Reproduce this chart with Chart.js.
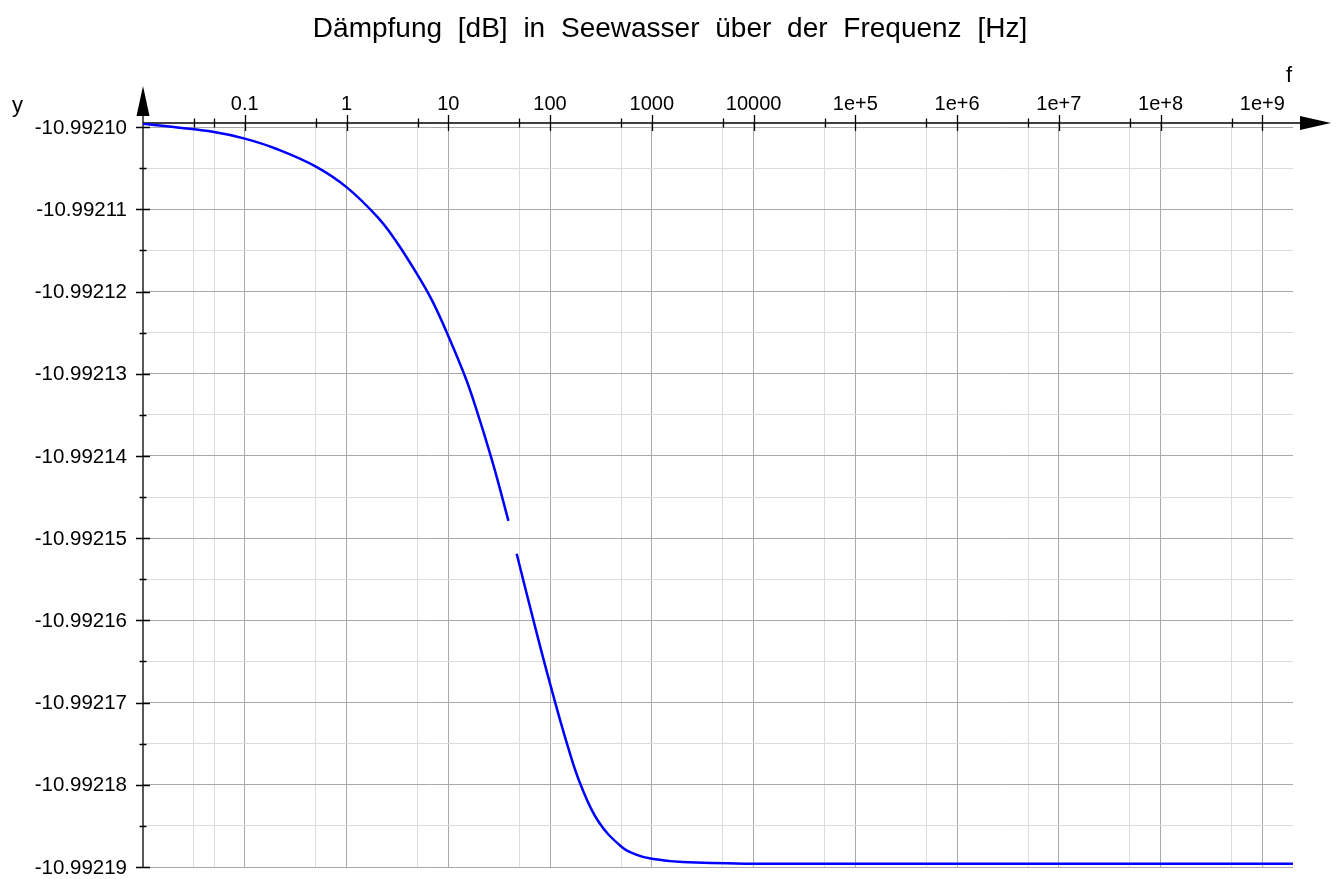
<!DOCTYPE html>
<html>
<head>
<meta charset="utf-8">
<script src="https://cdn.jsdelivr.net/npm/chart.js@4"></script>
<style>
  html, body { margin: 0; padding: 0; background: #fff; }
  #wrap { width: 1339px; height: 879px; position: relative; }
</style>
</head>
<body>
<div id="wrap"><canvas id="daempfungChart"></canvas></div>
<script>
  // frequency [Hz] and attenuation [dB]
  const freqs = [0.01, 0.02, 0.05, 0.1, 0.2, 0.5, 1, 2, 3, 5, 7, 10, 15, 20, 25, 30, 39,
                 43, 47, 70, 100, 150, 200, 300, 500, 700, 1000, 2000, 10000,
                 1e5, 1e6, 1e7, 1e8, 1e9, 2e9];
  const daempfung = [-10.9920996, -10.9921000, -10.9921006, -10.9921014, -10.9921026,
                     -10.9921048, -10.9921073, -10.9921109, -10.9921137, -10.9921180,
                     -10.9921212, -10.9921254, -10.9921307, -10.9921353, -10.9921392,
                     -10.9921426, -10.9921479,
                     null, // Lücke im Graph
                     -10.9921519, -10.9921604, -10.9921677, -10.9921754, -10.9921800,
                     -10.9921845, -10.9921875, -10.9921885, -10.9921890, -10.9921894,
                     -10.9921896, -10.9921896, -10.9921896, -10.9921896, -10.9921896,
                     -10.9921896, -10.9921896];

  const xMajor = [0.1, 1, 10, 100, 1000, 10000, 1e5, 1e6, 1e7, 1e8, 1e9];
  const xLabels = ['0.1', '1', '10', '100', '1000', '10000', '1e+5', '1e+6', '1e+7', '1e+8', '1e+9'];
  const xMinor = [0.0316, 0.05, 0.5, 5, 50, 500, 5000, 5e4, 5e5, 5e6, 5e7, 5e8];

  const yMajor = [-10.99210, -10.99211, -10.99212, -10.99213, -10.99214,
                  -10.99215, -10.99216, -10.99217, -10.99218, -10.99219];
  const yMinor = [-10.992105, -10.992115, -10.992125, -10.992135, -10.992145,
                  -10.992155, -10.992165, -10.992175, -10.992185];

  const FONT = '"Liberation Sans", Arial, Helvetica, sans-serif';

  function tickList(major, minor) {
    return major.map(v => ({ value: v, major: true }))
      .concat(minor.map(v => ({ value: v, major: false })))
      .sort((a, b) => a.value - b.value);
  }

  const gridColor = ctx => (ctx.tick && ctx.tick.major) ? '#a9a9a9' : '#dcdcdc';

  function arrow(ctx, pts) {
    ctx.beginPath();
    ctx.moveTo(pts[0][0], pts[0][1]);
    ctx.lineTo(pts[1][0], pts[1][1]);
    ctx.lineTo(pts[2][0], pts[2][1]);
    ctx.closePath();
    ctx.fill();
  }

  const mapleAxes = {
    id: 'mapleAxes',
    beforeDatasetsDraw(chart) {
      const ctx = chart.ctx;
      const a = chart.chartArea;
      const xs = chart.scales.x, ys = chart.scales.y;
      ctx.save();
      ctx.strokeStyle = '#000';
      ctx.fillStyle = '#000';
      ctx.lineWidth = 1.3;
      // Achsen
      ctx.beginPath();
      ctx.moveTo(a.left, 112);
      ctx.lineTo(a.left, a.bottom);
      ctx.moveTo(a.left, a.top);
      ctx.lineTo(1302, a.top);
      ctx.stroke();
      // Pfeile
      arrow(ctx, [[a.left, 86], [a.left - 6.5, 116], [a.left + 6.5, 116]]);
      arrow(ctx, [[1331, a.top], [1300, a.top - 7], [1300, a.top + 7]]);
      // Teilstriche
      ctx.beginPath();
      xs.ticks.forEach(t => {
        const px = Math.round(xs.getPixelForValue(t.value)) + 0.5;
        const l = t.major ? 8 : 4.5;
        ctx.moveTo(px, a.top - l);
        ctx.lineTo(px, a.top + l);
      });
      ys.ticks.forEach(t => {
        const py = Math.round(ys.getPixelForValue(t.value)) + 0.5;
        const l = t.major ? 7 : 3.5;
        ctx.moveTo(a.left - l, py);
        ctx.lineTo(a.left + l, py);
      });
      ctx.stroke();
      ctx.restore();
    },
    afterDraw(chart) {
      const ctx = chart.ctx;
      const xs = chart.scales.x, ys = chart.scales.y;
      ctx.save();
      ctx.fillStyle = '#000';
      // Titel
      ctx.font = '28px ' + FONT;
      ctx.textAlign = 'center';
      ctx.textBaseline = 'alphabetic';
      if ('wordSpacing' in ctx) ctx.wordSpacing = '8px';
      ctx.fillText('Dämpfung [dB] in Seewasser über der Frequenz [Hz]', 670, 37);
      if ('wordSpacing' in ctx) ctx.wordSpacing = '0px';
      // x-Beschriftung
      ctx.font = '20px ' + FONT;
      xMajor.forEach((v, i) => {
        ctx.fillText(xLabels[i], xs.getPixelForValue(v), 110);
      });
      // y-Beschriftung
      ctx.textAlign = 'right';
      ctx.textBaseline = 'middle';
      ctx.font = '20.5px ' + FONT;
      yMajor.forEach(v => {
        ctx.fillText(v.toFixed(5), 127, ys.getPixelForValue(v) + 1);
      });
      // Achsennamen
      ctx.textAlign = 'left';
      ctx.textBaseline = 'alphabetic';
      ctx.font = '22px ' + FONT;
      ctx.fillText('y', 12, 112);
      ctx.fillText('f', 1286, 82);
      ctx.restore();
    }
  };

  new Chart(document.getElementById('daempfungChart'), {
    type: 'line',
    data: {
      datasets: [{
        label: 'Dämpfung',
        data: freqs.map((f, i) => ({ x: f, y: daempfung[i] })),
        borderColor: '#0000ff',
        borderWidth: 2.5,
        pointRadius: 0,
        fill: false,
        spanGaps: false,
        tension: 0.4
      }]
    },
    options: {
      responsive: true,
      maintainAspectRatio: false,
      animation: false,
      devicePixelRatio: 1,
      layout: { padding: { left: 143, top: 123, right: 46, bottom: 12 } },
      plugins: {
        legend: { display: false },
        title: { display: false },
        tooltip: { enabled: false }
      },
      scales: {
        x: {
          type: 'logarithmic',
          position: 'top',
          min: 0.01,
          max: 2e9,
          bounds: 'data',
          afterBuildTicks: s => { s.ticks = tickList(xMajor, xMinor); },
          ticks: { display: false },
          grid: { color: gridColor, lineWidth: 1, drawTicks: false },
          border: { display: false }
        },
        y: {
          type: 'linear',
          min: -10.99219,
          max: -10.9920995,
          bounds: 'data',
          afterBuildTicks: s => { s.ticks = tickList(yMajor, yMinor); },
          ticks: { display: false },
          grid: { color: gridColor, lineWidth: 1, drawTicks: false },
          border: { display: false }
        }
      }
    },
    plugins: [mapleAxes]
  });
</script>
</body>
</html>
